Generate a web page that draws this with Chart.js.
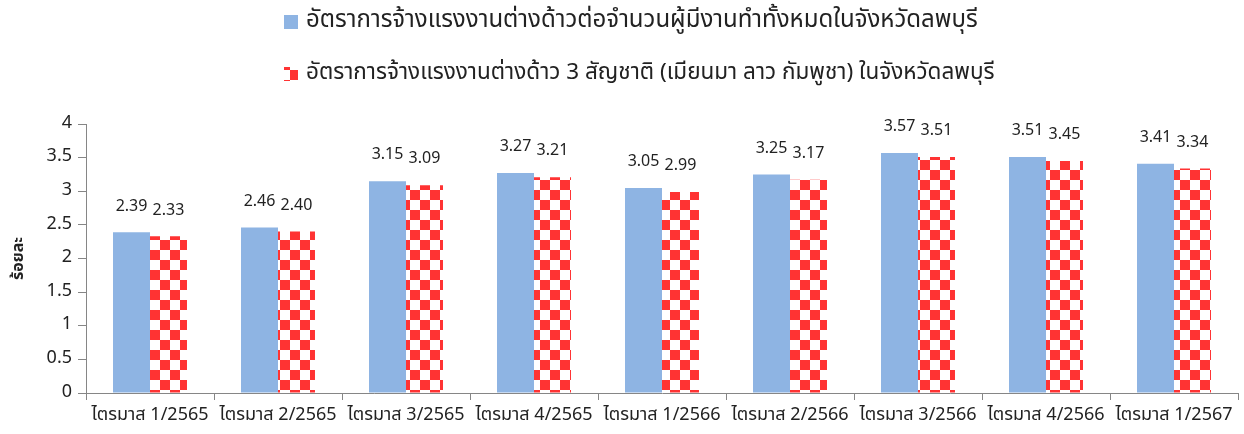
<!DOCTYPE html>
<html>
<head>
<meta charset="utf-8">
<script src="https://cdn.jsdelivr.net/npm/chart.js@4.4.1/dist/chart.umd.min.js"></script>
<style>
  html, body { margin: 0; padding: 0; background: #fff; }
  #wrap { width: 1244px; height: 434px; position: relative; }
</style>
</head>
<body>
<div id="wrap"><canvas id="chart"></canvas></div>
<script>
// Chart data
const quarterLabels = [
    'ไตรมาส 1/2565', 'ไตรมาส 2/2565', 'ไตรมาส 3/2565', 'ไตรมาส 4/2565',
    'ไตรมาส 1/2566', 'ไตรมาส 2/2566', 'ไตรมาส 3/2566', 'ไตรมาส 4/2566',
    'ไตรมาส 1/2567'
];
const allWorkersRate = [2.39, 2.46, 3.15, 3.27, 3.05, 3.25, 3.57, 3.51, 3.41];
const threeNationsRate = [2.33, 2.40, 3.09, 3.21, 2.99, 3.17, 3.51, 3.45, 3.34];
const seriesNames = [
    'อัตราการจ้างแรงงานต่างด้าวต่อจำนวนผู้มีงานทำทั้งหมดในจังหวัดลพบุรี',
    'อัตราการจ้างแรงงานต่างด้าว 3 สัญชาติ (เมียนมา ลาว กัมพูชา) ในจังหวัดลพบุรี'
];
const yTicks = [0, 0.5, 1, 1.5, 2, 2.5, 3, 3.5, 4];

const FONT = "'Noto Sans Thai', Tahoma, 'DejaVu Sans', 'Noto Sans', sans-serif";
const BLUE = '#8eb4e3';
const RED = '#ff3333';
const AXIS = '#868686';

// Red / white checker pattern for the second series
function makeChecker(cell) {
    const c = document.createElement('canvas');
    c.width = cell * 2;
    c.height = cell * 2;
    const g = c.getContext('2d');
    g.fillStyle = '#ffffff';
    g.fillRect(0, 0, c.width, c.height);
    g.fillStyle = RED;
    g.fillRect(0, 0, cell, cell);
    g.fillRect(cell, cell, cell, cell);
    return g.createPattern(c, 'repeat');
}
const checker = makeChecker(10);

// Values above each bar
const barValuePlugin = {
    id: 'barValues',
    afterDatasetsDraw(chart) {
        const ctx = chart.ctx;
        ctx.save();
        ctx.font = '16px ' + FONT;
        ctx.fillStyle = '#222';
        ctx.textAlign = 'center';
        ctx.textBaseline = 'bottom';
        chart.data.datasets.forEach((ds, i) => {
            chart.getDatasetMeta(i).data.forEach((bar, j) => {
                ctx.fillText(ds.data[j].toFixed(2), bar.x, bar.y - 17);
            });
        });
        ctx.restore();
    }
};

// Two-row legend, left aligned like the source
const legendPlugin = {
    id: 'rowLegend',
    afterDraw(chart) {
        const ctx = chart.ctx;
        ctx.save();
        ctx.textBaseline = 'middle';
        const rowsY = [22, 74];
        const sizes = [24, 22.5];
        chart.data.datasets.forEach((ds, i) => {
            const y = rowsY[i];
            ctx.fillStyle = ds.backgroundColor;
            ctx.fillRect(284, y - 7, 14, 14);
            ctx.fillStyle = '#222';
            ctx.font = sizes[i] + 'px ' + FONT;
            ctx.fillText(ds.label, 306, y);
        });
        ctx.restore();
    }
};

new Chart(document.getElementById('chart'), {
    type: 'bar',
    data: {
        labels: quarterLabels,
        datasets: [
            { label: seriesNames[0], data: allWorkersRate, backgroundColor: BLUE },
            { label: seriesNames[1], data: threeNationsRate, backgroundColor: checker }
        ]
    },
    options: {
        responsive: true,
        maintainAspectRatio: false,
        animation: false,
        layout: { padding: { top: 124, right: 6, left: 0, bottom: 0 } },
        datasets: {
            bar: { categoryPercentage: 0.578, barPercentage: 1.0 }
        },
        plugins: {
            legend: { display: false },
            tooltip: { enabled: false }
        },
        scales: {
            x: {
                grid: {
                    display: true,
                    drawOnChartArea: false,
                    drawTicks: true,
                    color: AXIS,
                    tickColor: AXIS,
                    tickLength: 7
                },
                border: { color: AXIS, width: 1 },
                ticks: {
                    color: '#222',
                    font: { family: FONT, size: 18 },
                    maxRotation: 0,
                    autoSkip: false,
                    padding: 6
                },
                afterFit(scale) { scale.height = 41; }
            },
            y: {
                min: 0,
                max: 4,
                afterBuildTicks(scale) { scale.ticks = yTicks.map(v => ({ value: v })); },
                grid: {
                    display: true,
                    drawOnChartArea: false,
                    drawTicks: true,
                    color: AXIS,
                    tickColor: AXIS,
                    tickLength: 8,
                    lineWidth: 1
                },
                border: { color: AXIS, width: 1 },
                ticks: {
                    color: '#222',
                    font: { family: FONT, size: 18 },
                    padding: 6,
                    callback: v => String(v)
                },
                title: {
                    display: true,
                    text: 'ร้อยละ',
                    color: '#222',
                    font: { family: FONT, size: 16, weight: 'bold' },
                    padding: { top: 10, bottom: 0 }
                },
                afterFit(scale) { scale.width = 86; }
            }
        }
    },
    plugins: [barValuePlugin, legendPlugin]
});
</script>
</body>
</html>
